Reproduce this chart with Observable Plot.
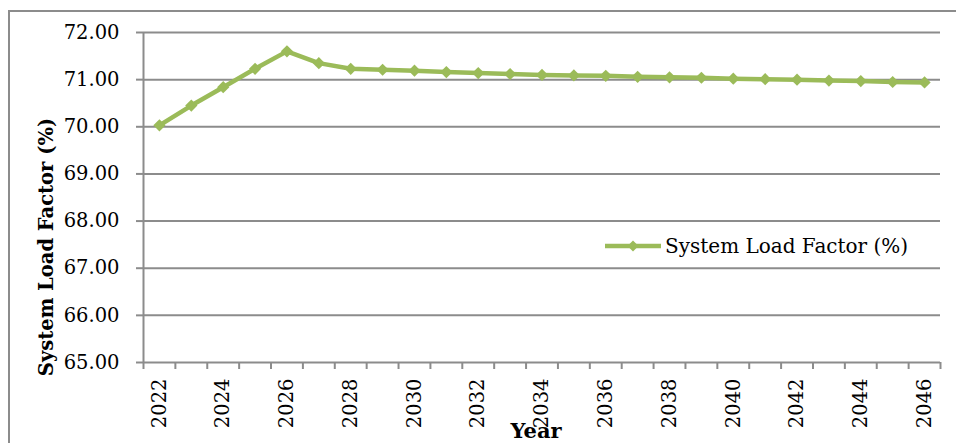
<!DOCTYPE html>
<html><head><meta charset="utf-8">
<script src="https://cdn.jsdelivr.net/npm/d3@7"></script>
<script src="https://cdn.jsdelivr.net/npm/@observablehq/plot@0.6"></script>
<style>
body{margin:0;background:#fff;}
#wrap{position:relative;width:956px;height:446px;overflow:hidden;font-family:"DejaVu Serif",serif;}
#frame{position:absolute;left:8px;top:10px;width:1000px;height:433px;border-top:2px solid #8c8c8c;border-left:2px solid #8c8c8c;box-sizing:border-box;}
#chart{position:absolute;left:0;top:0;}
.ytitle{position:absolute;left:46px;top:247px;transform:translate(-50%,-50%) rotate(-90deg);font-weight:bold;font-size:19.5px;white-space:nowrap;color:#000;}
.xtitle{position:absolute;left:536px;top:438px;transform:translate(-50%,-80%);font-weight:bold;font-size:21px;white-space:nowrap;color:#000;}
.legend{position:absolute;left:604px;top:234px;display:flex;align-items:center;font-size:20px;white-space:nowrap;color:#000;}
</style>
</head><body>
<div id="wrap">
  <div id="frame"></div>
  <div id="chart"></div>
  <div class="ytitle">System Load Factor (%)</div>
  <div class="xtitle">Year</div>
  <div class="legend"><svg width="58" height="20"><line x1="1" y1="10" x2="57" y2="10" stroke="#9bbb59" stroke-width="4.5"/><path d="M29,4.5 L34.5,10 L29,15.5 L23.5,10 Z" fill="#9bbb59"/></svg><span style="margin-left:3px">System Load Factor (%)</span></div>
</div>
<script>
const years = [2022,2023,2024,2025,2026,2027,2028,2029,2030,2031,2032,2033,2034,2035,2036,2037,2038,2039,2040,2041,2042,2043,2044,2045,2046];
const loadFactor = [70.03,70.45,70.84,71.23,71.60,71.35,71.23,71.21,71.19,71.16,71.14,71.12,71.10,71.09,71.08,71.06,71.05,71.04,71.02,71.01,71.00,70.98,70.97,70.95,70.94];
const yTicks = [65,66,67,68,69,70,71,72];
const xTickLabels = [2022,2024,2026,2028,2030,2032,2034,2036,2038,2040,2042,2044,2046];

const data = years.map((y,i)=>({year:y, v:loadFactor[i]}));
const bounds = years.map(y=>y-0.5).concat([years[years.length-1]+0.5]);
const grid = "#8c8c8c";

const chart = Plot.plot({
  width: 956, height: 446,
  marginLeft: 143, marginRight: 16, marginTop: 32, marginBottom: 84,
  style: {fontFamily: '"DejaVu Serif", serif', fontSize: "19.5px", background: "transparent", color: "#000"},
  x: {type: "linear", domain: [bounds[0], bounds[bounds.length-1]]},
  y: {domain: [65,72]},
  marks: [
    Plot.ruleY(yTicks, {stroke: grid, strokeWidth: 2}),
    Plot.ruleX([bounds[0]], {stroke: grid, strokeWidth: 2}),
    Plot.axisX({ticks: bounds, tickFormat: () => "", tickSize: 7, stroke: grid, strokeWidth: 2, label: null}),
    Plot.axisX({ticks: xTickLabels, tickFormat: d => String(d), tickSize: 0, tickRotate: -90, tickPadding: 16, fontSize: 19.5, label: null}),
    Plot.axisY({ticks: yTicks, tickFormat: d => d.toFixed(2), tickSize: 7, tickPadding: 17, stroke: grid, strokeWidth: 2, fontSize: 19.5, label: null}),
    Plot.line(data, {x: "year", y: "v", stroke: "#9bbb59", strokeWidth: 4.5}),
    Plot.dot(data, {x: "year", y: "v", symbol: "diamond2", r: 5.5, fill: "#9bbb59", stroke: "none"})
  ]
});
document.getElementById("chart").appendChild(chart);
</script>
</body></html>
